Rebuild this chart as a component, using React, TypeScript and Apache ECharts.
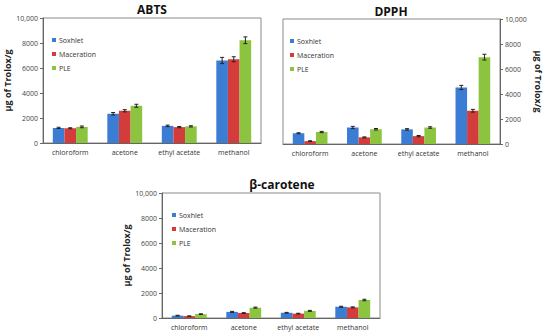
import React, { useEffect, useRef } from "react";
import * as echarts from "echarts";

const categories = ["chloroform", "acetone", "ethyl acetate", "methanol"];
const seriesNames = ["Soxhlet", "Maceration", "PLE"];
const colors = ["#3C7DD4", "#D43B3B", "#8CC43F"];

// ABTS
const abtsSoxhlet = [1210, 2340, 1370, 6600];
const abtsMaceration = [1180, 2580, 1270, 6700];
const abtsPLE = [1290, 2980, 1330, 8220];
const abtsSoxhletErr = [50, 100, 60, 250];
const abtsMacerationErr = [40, 90, 50, 200];
const abtsPLEErr = [70, 120, 50, 270];

// DPPH
const dpphSoxhlet = [860, 1320, 1170, 4520];
const dpphMaceration = [230, 530, 630, 2660];
const dpphPLE = [960, 1180, 1320, 6950];
const dpphSoxhletErr = [40, 90, 60, 170];
const dpphMacerationErr = [30, 40, 50, 110];
const dpphPLEErr = [50, 60, 60, 230];

// beta-carotene
const betaSoxhlet = [190, 490, 420, 900];
const betaMaceration = [150, 400, 350, 850];
const betaPLE = [310, 830, 570, 1440];
const betaSoxhletErr = [30, 40, 30, 40];
const betaMacerationErr = [20, 30, 30, 40];
const betaPLEErr = [30, 40, 40, 60];

const charts = [
  {
    title: "ABTS",
    values: [abtsSoxhlet, abtsMaceration, abtsPLE],
    errors: [abtsSoxhletErr, abtsMacerationErr, abtsPLEErr],
  },
  {
    title: "DPPH",
    values: [dpphSoxhlet, dpphMaceration, dpphPLE],
    errors: [dpphSoxhletErr, dpphMacerationErr, dpphPLEErr],
  },
  {
    title: "β-carotene",
    values: [betaSoxhlet, betaMaceration, betaPLE],
    errors: [betaSoxhletErr, betaMacerationErr, betaPLEErr],
  },
];

const FONT = "'Open Sans', 'DejaVu Sans', sans-serif";
const CAT_GAP = 0.36;

const grids = [
  { left: 43, top: 18, width: 218, height: 125 },
  { left: 283, top: 19, width: 217, height: 125 },
  { left: 162, top: 193, width: 218, height: 125 },
];
const titlePos = [
  { x: 152, y: 2 },
  { x: 391, y: 4 },
  { x: 282, y: 177 },
];
const legendPos = [
  { left: 52, top: 36 },
  { left: 290, top: 37 },
  { left: 172, top: 211 },
];
const yPos = ["left", "right", "left"];
const yNameGap = [29, 34, 25];

function buildOption() {
  const series: any[] = [];
  charts.forEach((c, gi) => {
    seriesNames.forEach((name, si) => {
      series.push({
        type: "bar",
        name,
        xAxisIndex: gi,
        yAxisIndex: gi,
        data: c.values[si],
        itemStyle: { color: colors[si] },
        barGap: "0%",
        barCategoryGap: CAT_GAP * 100 + "%",
      });
    });
    const errData: number[][] = [];
    seriesNames.forEach((_, si) => {
      c.values[si].forEach((v, ci) => {
        errData.push([ci, v, c.errors[si][ci], si]);
      });
    });
    series.push({
      type: "custom",
      name: "error",
      xAxisIndex: gi,
      yAxisIndex: gi,
      z: 10,
      silent: true,
      encode: { x: 0, y: 1 },
      data: errData,
      renderItem: (params: any, api: any) => {
        const ci = api.value(0);
        const v = api.value(1);
        const e = api.value(2);
        const si = api.value(3);
        const band = api.size([1, 0])[0];
        const bw = (band * (1 - CAT_GAP)) / 3;
        const center = api.coord([ci, v]);
        const x = center[0] + (si - 1) * bw;
        const hi = api.coord([ci, v + e])[1];
        const lo = api.coord([ci, v - e])[1];
        const cap = 2;
        const style = { stroke: "#222", lineWidth: 1 };
        return {
          type: "group",
          children: [
            { type: "line", shape: { x1: x, y1: hi, x2: x, y2: lo }, style },
            { type: "line", shape: { x1: x - cap, y1: hi, x2: x + cap, y2: hi }, style },
            { type: "line", shape: { x1: x - cap, y1: lo, x2: x + cap, y2: lo }, style },
          ],
        };
      },
    });
  });

  return {
    animation: false,
    backgroundColor: "#ffffff",
    title: charts.map((c, i) => ({
      text: c.title,
      left: titlePos[i].x,
      top: titlePos[i].y,
      textAlign: "center",
      padding: 0,
      textStyle: { fontFamily: FONT, fontWeight: "bold", fontSize: 12, color: "#111", lineHeight: 14 },
    })),
    legend: charts.map((_, i) => ({
      data: seriesNames,
      orient: "vertical",
      left: legendPos[i].left,
      top: legendPos[i].top,
      padding: 0,
      itemWidth: 4,
      itemHeight: 4,
      itemGap: 6,
      icon: "rect",
      selectedMode: false,
      textStyle: { fontFamily: FONT, fontSize: 7, color: "#333", padding: [0, 0, 0, -2], lineHeight: 8 },
    })),
    grid: grids.map((g) => ({
      ...g,
      show: true,
      borderColor: "#8a8a8a",
      borderWidth: 1,
      containLabel: false,
    })),
    xAxis: charts.map((_, i) => ({
      type: "category",
      gridIndex: i,
      data: categories,
      axisTick: { show: false },
      axisLine: { lineStyle: { color: "#666", width: 1 } },
      axisLabel: { fontFamily: FONT, fontSize: 7, color: "#333", margin: 6, interval: 0 },
    })),
    yAxis: charts.map((_, i) => ({
      type: "value",
      gridIndex: i,
      position: yPos[i],
      min: 0,
      max: 10000,
      interval: 2000,
      splitLine: { show: false },
      axisLine: { show: true, lineStyle: { color: "#666", width: 1 } },
      axisTick: { show: true, length: 3, lineStyle: { color: "#666" } },
      axisLabel: {
        fontFamily: FONT,
        fontSize: 7,
        color: "#444",
        margin: 5,
        formatter: (v: number) => (v === 10000 ? "10,000" : String(v)),
      },
      name: "μg of Trolox/g",
      nameLocation: "middle",
      nameGap: yNameGap[i],
      nameRotate: i === 1 ? -90 : 90,
      nameTextStyle: { fontFamily: FONT, fontWeight: "bold", fontSize: 9, color: "#222" },
    })),
    series,
  };
}

export default function App() {
  const ref = useRef<HTMLDivElement>(null);
  useEffect(() => {
    document.body.style.margin = "0";
    if (!ref.current) return;
    const chart = echarts.init(ref.current, undefined, { renderer: "svg" });
    chart.setOption(buildOption() as any);
    return () => chart.dispose();
  }, []);
  return <div ref={ref} style={{ width: 550, height: 336, background: "#fff" }} />;
}
